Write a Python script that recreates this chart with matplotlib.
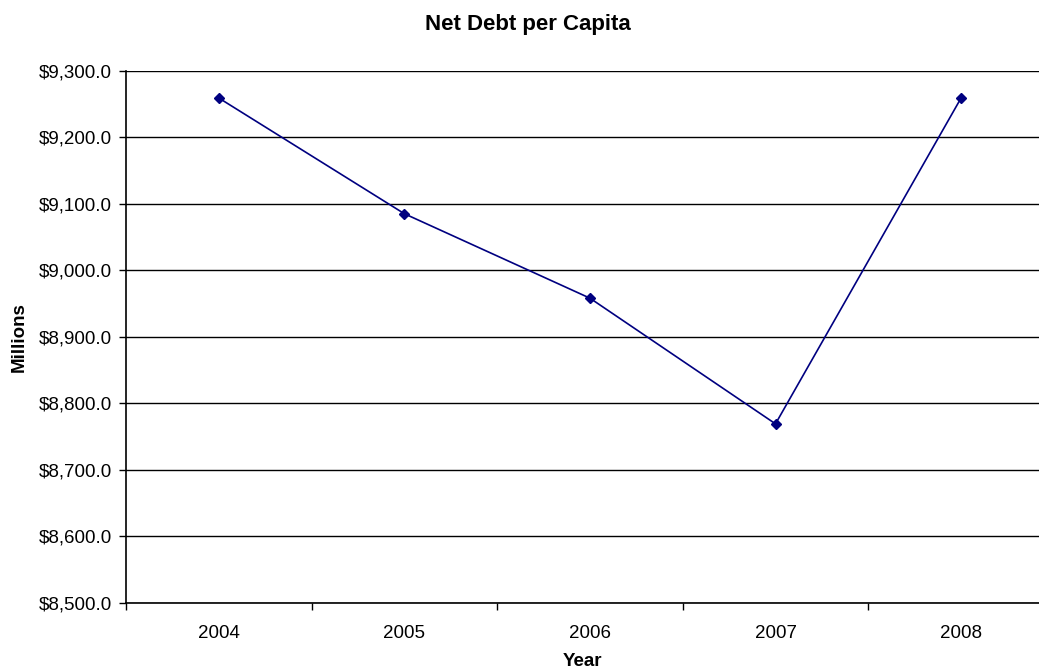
import matplotlib
matplotlib.use("Agg")
import matplotlib.pyplot as plt
from matplotlib.ticker import FuncFormatter, FixedLocator

plt.rcParams['font.family'] = ['Liberation Sans', 'DejaVu Sans']

# Данные: чистый долг на душу населения по годам
years = ["2004", "2005", "2006", "2007", "2008"]
net_debt = [9259, 9085, 8958, 8769, 9259]

fig = plt.figure(figsize=(10.39, 6.70), dpi=100)
ax = fig.add_axes([0.1213, 0.1004, 0.8787, 0.794])

x = list(range(len(years)))
ax.plot(x, net_debt, color="#000080", linewidth=1.2, marker="D", markersize=5,
        zorder=3, clip_on=False)

ax.set_ylim(8500, 9300)
ax.set_xlim(-0.5, 4.42)
ax.set_yticks(range(8500, 9301, 100))
ax.yaxis.set_major_formatter(FuncFormatter(lambda v, p: f"${v:,.1f}"))

# подписи годов по центрам категорий, засечки на границах
ax.set_xticks(x)
ax.set_xticklabels(years)
ax.xaxis.set_minor_locator(FixedLocator([i - 0.5 for i in range(len(years) + 1)]))
ax.tick_params(axis="x", which="major", length=0, pad=16, labelsize=13.5)
ax.tick_params(axis="x", which="minor", length=5, direction="out", width=1)
ax.tick_params(axis="y", length=5, direction="out", width=1, labelsize=13.5, pad=5)

ax.grid(axis="y", color="black", linewidth=1)
ax.set_axisbelow(True)
for side in ("top", "right"):
    ax.spines[side].set_visible(False)
ax.spines["left"].set_linewidth(1.2)
ax.spines["bottom"].set_linewidth(1.2)

ax.set_xlabel("Year", fontsize=13.5, fontweight="bold", labelpad=8)
ax.set_ylabel("Millions", fontsize=13.5, fontweight="bold", labelpad=8)
fig.text(0.508, 0.963, "Net Debt per Capita", ha="center", va="center",
         fontsize=16, fontweight="bold")

fig.savefig("out.png", dpi=100)
